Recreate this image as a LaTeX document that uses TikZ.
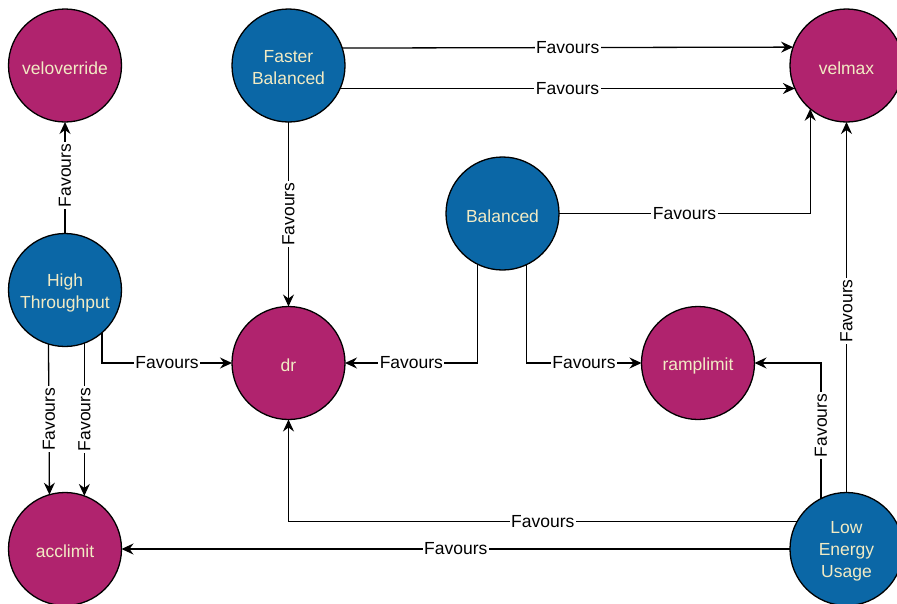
\documentclass[tikz,border=0pt]{standalone}
\usepackage{fontspec}
\setmainfont{Liberation Sans}
\usetikzlibrary{arrows.meta}
\definecolor{nblue}{HTML}{0B67A6}
\definecolor{nmag}{HTML}{B0236E}
\definecolor{ntext}{HTML}{F2EBC4}
\newcommand\lowtxt[1]{\raisebox{-2.5pt}[\height][\depth]{#1}}
\begin{document}
\begin{tikzpicture}[x=1pt,y=-1pt,
  circ/.style={circle, draw=black, line width=1.3pt, minimum size=113pt, inner sep=0pt, outer sep=0pt,
    text=ntext, align=center, font=\fontsize{17.5}{22}\selectfont},
  bnode/.style={circ, fill=nblue},
  mnode/.style={circ, fill=nmag},
  arr/.style={line width=1.3pt, -{Stealth[length=12pt,width=11pt,inset=4pt]}},
  lbl/.style={fill=white, inner sep=1.5pt, text=black, font=\fontsize{17.5}{21}\selectfont}]
\useasboundingbox (0,0) rectangle (897,603);
\node[mnode] (velo) at (65,65.5) {\lowtxt{veloverride}};
\node[bnode] (fb) at (288.5,65.5) {\lowtxt{Faster}\\\lowtxt{Balanced}};
\node[mnode] (velmax) at (846.5,65.5) {\lowtxt{velmax}};
\node[bnode] (ht) at (65,290) {\lowtxt{High}\\\lowtxt{Throughput}};
\node[bnode] (bal) at (502.5,213.5) {\lowtxt{Balanced}};
\node[mnode] (dr) at (288.5,363) {\lowtxt{dr}};
\node[mnode] (ramp) at (698,363) {\lowtxt{ramplimit}};
\node[mnode] (acc) at (65,549) {\lowtxt{acclimit}};
\node[bnode] (leu) at (846.5,549) {\lowtxt{Low}\\\lowtxt{Energy}\\\lowtxt{Usage}};

\draw[arr] (fb.18.6) -- node[lbl]{Favours} (velmax.161.4);
\draw[arr] (fb.-24) -- node[lbl]{Favours} (velmax.-156);
\draw[arr] (fb) -- node[lbl,rotate=90]{Favours} (dr);
\draw[arr] (ht) -- node[lbl,rotate=90,pos=0.52]{Favours} (velo);
\draw[arr] (ht.253.55) -- node[lbl,rotate=90]{Favours} (acc.106.45);
\draw[arr] (ht.-70.35) -- node[lbl,rotate=90]{Favours} (acc.70.35);
\draw[arr] (ht.-49.1) |- node[lbl,pos=0.75]{Favours} (dr.west);
\draw[arr] (bal.244.3) |- node[lbl,pos=0.75]{Favours} (dr.east);
\draw[arr] (bal.-65.4) |- node[lbl,pos=0.75]{Favours} (ramp.west);
\draw[arr] (bal.east) -| node[lbl,pos=0.25]{Favours} (velmax.-130.2);
\draw[arr] (leu) -- node[lbl,rotate=90,pos=0.49]{Favours} (velmax);
\draw[arr] (leu.117.4) |- node[lbl,rotate=90,pos=0.27]{Favours} (ramp.east);
\draw[arr] (leu.151.5) -| node[lbl,pos=0.25]{Favours} (dr.south);
\draw[arr] (leu) -- node[lbl]{Favours} (acc);
\end{tikzpicture}
\end{document}
